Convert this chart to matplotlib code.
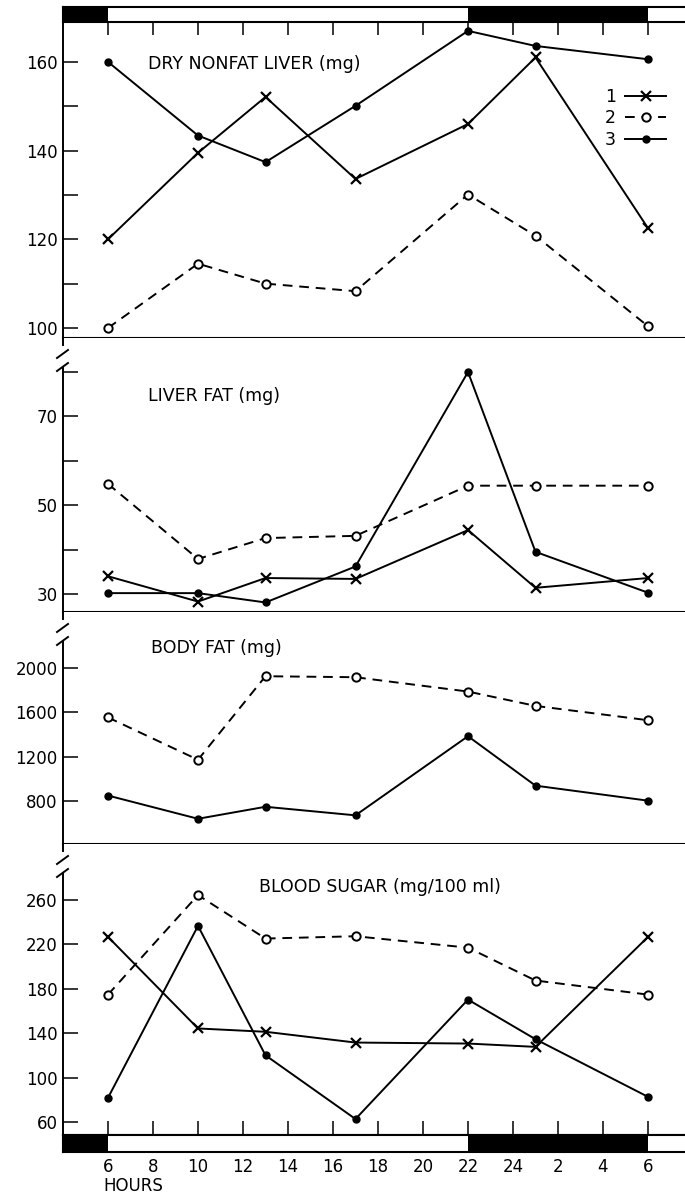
import matplotlib
matplotlib.use('Agg')
import matplotlib.pyplot as plt
from matplotlib.lines import Line2D

plt.rcParams['font.family'] = ['DejaVu Sans']

# ---------------- data ----------------
hours = [6, 10, 13, 17, 22, 25, 30]
tick_hours = [6, 8, 10, 12, 14, 16, 18, 20, 22, 24, 26, 28, 30]
tick_labels = ['6', '8', '10', '12', '14', '16', '18', '20', '22', '24', '2', '4', '6']
dark_start = [4, 22]
dark_len = [2, 8]

liver_1 = [120.0, 139.5, 152.1, 133.6, 146.0, 161.0, 122.5]
liver_2 = [100.0, 114.5, 110.0, 108.3, 130.1, 120.8, 100.4]
liver_3 = [160.0, 143.4, 137.4, 150.1, 167.0, 163.6, 160.6]

fat_1 = [34.0, 28.3, 33.6, 33.4, 44.4, 31.4, 33.6]
fat_2 = [54.8, 37.9, 42.6, 43.1, 54.4, 54.4, 54.4]
fat_3 = [30.2, 30.2, 28.1, 36.2, 80.0, 39.5, 30.3]

body_2 = [1552, 1171, 1923, 1914, 1785, 1656, 1527]
body_3 = [849, 640, 748, 671, 1383, 938, 803]

sugar_1 = [226.8, 144.3, 141.3, 131.6, 130.7, 127.7, 226.8]
sugar_2 = [174.8, 264.5, 225.3, 227.4, 217.1, 187.5, 174.8]
sugar_3 = [81.8, 236.7, 120.1, 62.7, 170.3, 134.6, 82.7]

titles = ['DRY NONFAT LIVER (mg)', 'LIVER FAT (mg)', 'BODY FAT (mg)', 'BLOOD SUGAR (mg/100 ml)']
legend_labels = ['1', '2', '3']

# ---------------- layout (pixels) ----------------
W, H = 685, 1194
X0, X1 = 63, 685
XLIM = (4, 4 + (X1 - X0) / 22.5)

def frac_rect(top, bottom):
    return [X0 / W, 1 - bottom / H, (X1 - X0) / W, (bottom - top) / H]

fig = plt.figure(figsize=(W / 100, H / 100), dpi=100)

panels = [
    dict(top=22, bottom=338, ylim=(97.74, 169.0), major=[100, 120, 140, 160], minor=[110, 130, 150],
         series=[liver_1, liver_2, liver_3], title_xy=(148, 64)),
    dict(top=338, bottom=612, ylim=(25.95, 87.66), major=[30, 50, 70], minor=[40, 60, 80],
         series=[fat_1, fat_2, fat_3], title_xy=(148, 396)),
    dict(top=612, bottom=844, ylim=(413, 2501), major=[800, 1200, 1600, 2000], minor=[],
         series=[None, body_2, body_3], title_xy=(151, 648)),
    dict(top=844, bottom=1135, ylim=(48.3, 310.5), major=[60, 100, 140, 180, 220, 260], minor=[],
         series=[sugar_1, sugar_2, sugar_3], title_xy=(259, 887)),
]

styles = [
    dict(color='black', ls='-', lw=1.4, marker='x', ms=6.5, mew=1.6),
    dict(color='black', ls=(0, (5, 3.5)), lw=1.4, marker='o', ms=6, mew=1.4, mfc='white'),
    dict(color='black', ls='-', lw=1.4, marker='o', ms=5, mfc='black'),
]

axes = []
for i, p in enumerate(panels):
    ax = fig.add_axes(frac_rect(p['top'], p['bottom']))
    axes.append(ax)
    h = p['bottom'] - p['top']
    ax.set_xlim(*XLIM)
    ax.set_ylim(*p['ylim'])
    for s, st in zip(p['series'], styles):
        if s is not None:
            ax.plot(hours, s, clip_on=False, zorder=3, **st)
    ax.set_yticks(p['major'])
    ax.set_yticks(p['minor'], minor=True)
    ax.set_yticklabels([str(v) for v in p['major']])
    ax.tick_params(axis='y', which='both', direction='in', length=10.8, width=1.1,
                   labelsize=12, pad=4)
    for sp in ['top', 'right']:
        ax.spines[sp].set_visible(False)
    ax.spines['bottom'].set_linewidth(1.5)
    if i == 0:
        ax.spines['left'].set_linewidth(1.4)
        ax.xaxis.set_ticks_position('top')
        ax.set_xticks(tick_hours)
        ax.tick_params(axis='x', direction='in', length=9.5, width=1.1, labeltop=False,
                       labelbottom=False)
    else:
        ax.spines['left'].set_visible(False)
        # broken axis marks drawn in pixel offsets converted to axes fraction
        fy = lambda px: 1 - px / h
        fx = lambda px: px / (X1 - X0)
        kw = dict(transform=ax.transAxes, color='black', lw=1.4, clip_on=False)
        ax.add_line(Line2D([0, 0], [0, fy(30)], **kw))
        ax.add_line(Line2D([0, 0], [1, fy(7)], **kw))
        for yc in (16, 29):
            ax.add_line(Line2D([fx(-6), fx(5)], [fy(yc + 4), fy(yc - 4)], **kw))
        if i == 3:
            ax.set_xticks(tick_hours)
            ax.tick_params(axis='x', direction='in', length=10, width=1.1, labelbottom=False)
        else:
            ax.set_xticks([])
    tx, ty = p['title_xy']
    ax.text((tx - X0) / (X1 - X0), 1 - (ty - p['top']) / h, titles[i], transform=ax.transAxes,
            ha='left', va='center', fontsize=12.5)

# legend in top panel
handles = [Line2D([], [], **st) for st in styles]
axes[0].legend(handles, legend_labels, markerfirst=False, frameon=False, loc='upper left',
               bbox_to_anchor=((605 - X0) / (X1 - X0), 1 - (88 - 22) / 316),
               borderpad=0, borderaxespad=0, fontsize=12.5, handlelength=2.4,
               handletextpad=0.5, labelspacing=0.2)

# light/dark bars
for (top, bottom, show_labels) in [(7, 22, False), (1135, 1152, True)]:
    bx = fig.add_axes(frac_rect(top, bottom))
    bx.set_xlim(*XLIM)
    bx.set_ylim(0, 1)
    bx.broken_barh(list(zip(dark_start, dark_len)), (0, 1), facecolor='black')
    bx.set_yticks([])
    bx.spines['right'].set_visible(False)
    for sp in ['top', 'bottom', 'left']:
        bx.spines[sp].set_linewidth(1.5)
    if show_labels:
        bx.set_xticks(tick_hours)
        bx.set_xticklabels(tick_labels)
        bx.tick_params(axis='x', length=0, labelsize=12, pad=4)
    else:
        bx.set_xticks([])

fig.text(103 / W, 1 - 1186 / H, 'HOURS', ha='left', va='center', fontsize=12)

fig.savefig('out.png', dpi=100)
